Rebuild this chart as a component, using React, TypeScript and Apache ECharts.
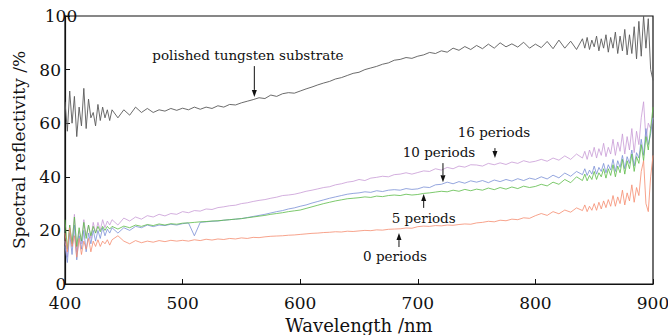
import React, { useEffect, useRef } from "react";
import * as echarts from "echarts";

// sampling grid, nm: finer where the spectra are noisy
const wavelengths: number[] = [
  ...Array.from({ length: 21 }, (_, i) => 400 + i * 2),
  ...Array.from({ length: 79 }, (_, i) => 445 + i * 5),
  ...Array.from({ length: 31 }, (_, i) => 840 + i * 2),
];

const tungsten = [
  68, 57, 72, 60, 70, 55, 66, 59, 73, 58, 69, 62, 64, 59, 67, 61, 66, 62, 65, 61, 65,
  62,
  65, 63, 66, 64, 65.5, 64, 65, 64.5, 65.5, 64.8,
  65.6, 65, 66, 65.2, 66, 65.5, 66.5, 66, 67, 66.8,
  67.6, 68.2, 68.8, 69.5, 69.2, 70.5, 70, 71, 71.4, 71.2,
  72, 72.8, 73.5, 74.3, 75, 75.6, 76.5, 77, 77.8, 78.6,
  79, 80, 80.6, 81.2, 82, 82.5, 83.5, 83.8, 84.5, 84.2,
  85, 85.5, 86.4, 86, 87, 86.5, 88, 87.2, 88.6, 87.5,
  89, 87.8, 89.5, 88, 90, 88.5, 89.6, 88.4, 90.2, 88,
  89.5, 88.2, 90.5, 87.8, 91, 88, 90.6, 87.5,
  91.5, 88, 92, 87.5, 91, 88.5, 92.5, 87, 91.5, 88, 93, 86.5, 92, 88, 94, 86,
  92.5, 87, 95, 85.5, 93, 86, 96, 84, 98, 85, 100, 88, 99, 80, 76,
];

const periods16 = [
  16, 10, 22, 14, 26, 12, 20, 15, 24, 18, 22, 17, 23, 19, 23, 20, 24, 21, 23.5, 22, 24,
  22,
  24.6, 23.5, 25, 24.2, 25.5, 25, 26, 25.4, 26.3, 26,
  27, 26.6, 27.4, 27.2, 28, 27.8, 28.5, 28.8, 29.2, 29.4,
  30, 30.3, 30.8, 31.2, 31.5, 32, 32.4, 33, 33.2, 33.5,
  34, 34.6, 35, 35.5, 36, 36.3, 37, 37.4, 38, 38.3,
  39, 38.6, 39.5, 39.8, 40.2, 40, 40.8, 41, 41.5, 41,
  41.6, 42.2, 42, 43, 42.5, 43.5, 43, 44, 43.6, 44.5,
  44.4, 44, 45, 44.5, 45.2, 44.6, 45.5, 45, 46, 45.4,
  45.8, 46.5, 45.8, 47, 46.2, 47.8, 46.5, 48.5,
  47, 49.5, 46.5, 50, 47.5, 51, 47, 50.5, 48, 52.5, 47.5, 51, 48.5, 54, 48, 53,
  49.5, 56, 48.5, 55, 50, 58, 49, 57, 52, 62, 68, 54, 60, 58, 62,
];

const periods10 = [
  14, 8, 19, 11, 22, 9, 18, 13, 20, 12, 19, 15, 20, 16, 20, 17, 21, 18, 20.5, 19, 21,
  19,
  21, 20, 21.5, 21, 22, 21.4, 22, 21.8, 22.3, 22,
  22.5, 22.8, 18, 23, 23.2, 23.4, 23.5, 23.8, 24, 24.2,
  24.4, 24.8, 25.2, 25.6, 26, 26.5, 27, 27.4, 28, 28.4,
  29, 29.5, 30.2, 30.8, 31.4, 32, 32.5, 33, 33.5, 33.8,
  34, 34.4, 34.2, 34.8, 34.5, 35, 35.2, 35, 35.6, 35.3,
  35.5, 36.2, 36, 37, 37.2, 38, 37.4, 38.2, 37.6, 38.5,
  38, 38.6, 37.8, 38.8, 38.2, 39, 38.4, 39.3, 38.6, 39.5,
  39, 40, 39.2, 40.6, 39.6, 41.4, 40.2, 42,
  40.8, 43, 40.5, 42.5, 41, 44, 41, 43.5, 42, 45, 41.5, 44.5, 42.5, 46.5, 42, 46,
  43.5, 48, 43, 47.5, 45, 50, 44, 49, 47, 54, 48, 58, 52, 56, 62,
];

const periods5 = [
  24, 13, 22, 15, 25, 14, 21, 16, 23, 17, 22, 18, 21.5, 19, 21.5, 19.5, 21.5, 20, 21.5, 20.5, 21.5,
  20.5,
  21.6, 21, 22, 21.5, 22.2, 21.8, 22.4, 22, 22.5, 22.3,
  22.7, 22.8, 23, 23.2, 23.3, 23.5, 23.6, 23.8, 24, 24.2,
  24.4, 24.7, 25, 25.3, 25.6, 26, 26.3, 26.6, 27, 27.3,
  27.6, 28.2, 28.8, 29.4, 30, 30.5, 31, 31.4, 31.8, 32,
  32.2, 32.5, 32.3, 32.8, 32.6, 33, 33.2, 33, 33.5, 33.2,
  33.4, 33.8, 34, 34.3, 34.6, 34.4, 35, 34.6, 35.3, 34.8,
  35.4, 35, 35.8, 35.2, 36, 35.4, 36.2, 35.6, 36.5, 36,
  36.4, 37.2, 36.6, 38, 37.2, 39, 37.8, 40,
  38.6, 41, 38.5, 40.5, 39, 42, 39, 41.5, 40, 43, 39.5, 43, 40.5, 44.5, 40, 44,
  41.5, 46.5, 41, 46, 43, 48.5, 42, 47.5, 45, 52, 46, 55, 50, 58, 66,
];

const periods0 = [
  19, 12, 21, 14, 18, 10, 17, 11, 16, 13, 17, 12, 16, 14, 16.5, 14, 16, 15, 16.5, 14.5, 16.5,
  18,
  16, 15, 16.2, 15.4, 16, 15.6, 16.2, 15.8, 16.3, 16,
  16.3, 16, 16.5, 16.2, 16.7, 16.4, 16.8, 16.6, 17, 16.8,
  17.2, 17, 17.4, 17.3, 17.6, 17.8, 17.9, 18, 18.2, 18.3,
  18.5, 18.7, 18.9, 19, 19.2, 19.3, 19.5, 19.4, 19.7, 19.6,
  19.8, 20, 19.9, 20.2, 20.1, 20.4, 20.5, 20.6, 20.9, 20.8,
  21.4, 21.6, 21.5, 21.8, 21.7, 22, 21.9, 22.2, 22.4, 22.3,
  22.8, 23, 23.4, 23.2, 23.8, 23.6, 24.2, 24, 24.7, 24.5,
  25.5, 26.3, 25.6, 27, 26.2, 27.6, 26.8, 28.4,
  27.4, 29.5, 27, 29, 27.5, 30, 27.5, 30.5, 28, 31, 28.5, 31.5, 29, 33, 29, 32.5,
  30, 35, 29.5, 34, 31, 37, 30.5, 36, 33, 42, 46, 30, 27, 40, 48,
];

const seriesDefs = [
  { name: "polished tungsten substrate", values: tungsten, color: "#5a5a5a", width: 0.9 },
  { name: "16 periods", values: periods16, color: "#c89ad6", width: 0.8 },
  { name: "10 periods", values: periods10, color: "#7a8fd6", width: 0.8 },
  { name: "5 periods", values: periods5, color: "#5cbb48", width: 0.8 },
  { name: "0 periods", values: periods0, color: "#f58c6e", width: 0.8 },
];

// annotation: label position and arrow (wavelength, from value, tip value)
const annotations = [
  { text: "polished tungsten substrate", tx: 555.6, ty: 85.4, ax: 561, from: 81.3, tip: 69.8 },
  { text: "16 periods", tx: 764.8, ty: 56.7, ax: 765.6, from: 50.7, tip: 47 },
  { text: "10 periods", tx: 718, ty: 49.3, ax: 721.4, from: 45.1, tip: 38 },
  { text: "5 periods", tx: 705, ty: 24.6, ax: 705, from: 28.4, tip: 33.6 },
  { text: "0 periods", tx: 680.6, ty: 10.4, ax: 684, from: 13.8, tip: 19 },
];

const FONT = "'DejaVu Serif', 'Liberation Serif', serif";

export default function App() {
  const ref = useRef<HTMLDivElement>(null);
  useEffect(() => {
    if (!ref.current) return;
    const chart = echarts.init(ref.current, undefined, { renderer: "svg" });
    chart.setOption({
      animation: false,
      backgroundColor: "#ffffff",
      grid: {
        left: 65,
        right: 15,
        top: 16,
        bottom: 51,
        containLabel: false,
        outerBoundsMode: "none",
        show: true,
        borderColor: "#111",
        borderWidth: 1.2,
      },
      xAxis: {
        type: "value",
        min: 400,
        max: 900,
        interval: 100,
        name: "Wavelength /nm",
        nameLocation: "middle",
        nameGap: 28,
        nameTextStyle: { fontFamily: FONT, fontSize: 18, color: "#111" },
        axisLine: { lineStyle: { color: "#111", width: 1.2 } },
        axisTick: { inside: true, length: 5, lineStyle: { color: "#111" } },
        axisLabel: {
          fontFamily: FONT,
          fontSize: 17,
          lineHeight: 14,
          color: "#111",
          margin: 12,
          alignMinLabel: "center",
          alignMaxLabel: "center",
        },
        splitLine: { show: false },
      },
      yAxis: {
        type: "value",
        min: 0,
        max: 100,
        interval: 20,
        name: "Spectral reflectivity /%",
        nameLocation: "middle",
        nameGap: 38,
        nameTextStyle: { fontFamily: FONT, fontSize: 17, color: "#111" },
        axisLine: { show: true, lineStyle: { color: "#111", width: 1.2 } },
        axisTick: { show: true, inside: true, length: 5, lineStyle: { color: "#111" } },
        axisLabel: {
          fontFamily: FONT,
          fontSize: 17,
          lineHeight: 12,
          color: "#111",
          margin: 4,
          alignMinLabel: "center",
          alignMaxLabel: "center",
        },
        splitLine: { show: false },
      },
      series: seriesDefs.map((s) => ({
        name: s.name,
        type: "line",
        data: wavelengths.map((w, i) => [w, s.values[i]]),
        showSymbol: false,
        symbol: "none",
        clip: true,
        lineStyle: { color: s.color, width: s.width },
        z: 2,
      })),
    });

    const graphics: any[] = [];
    annotations.forEach((a) => {
      const [tx, ty] = chart.convertToPixel({ gridIndex: 0 }, [a.tx, a.ty]) as number[];
      const [ax, ay0] = chart.convertToPixel({ gridIndex: 0 }, [a.ax, a.from]) as number[];
      const [, ay1] = chart.convertToPixel({ gridIndex: 0 }, [a.ax, a.tip]) as number[];
      graphics.push({
        type: "text",
        x: tx,
        y: ty,
        style: {
          text: a.text,
          fontFamily: FONT,
          fontSize: 13.5,
          fill: "#111",
          align: "center",
          verticalAlign: "middle",
        },
        z: 10,
      });
      const dir = ay1 > ay0 ? 1 : -1; // pointing down if 1
      const head = 7;
      graphics.push({
        type: "line",
        shape: { x1: ax, y1: ay0, x2: ax, y2: ay1 - dir * head },
        style: { stroke: "#111", lineWidth: 1 },
        z: 10,
      });
      graphics.push({
        type: "polygon",
        shape: {
          points: [
            [ax - 2.5, ay1 - dir * head],
            [ax + 2.5, ay1 - dir * head],
            [ax, ay1],
          ],
        },
        style: { fill: "#111" },
        z: 10,
      });
    });
    chart.setOption({ graphic: graphics });

    return () => chart.dispose();
  }, []);
  return (
    <div
      ref={ref}
      style={{ position: "fixed", left: 0, top: 0, width: 668, height: 335 }}
    />
  );
}
